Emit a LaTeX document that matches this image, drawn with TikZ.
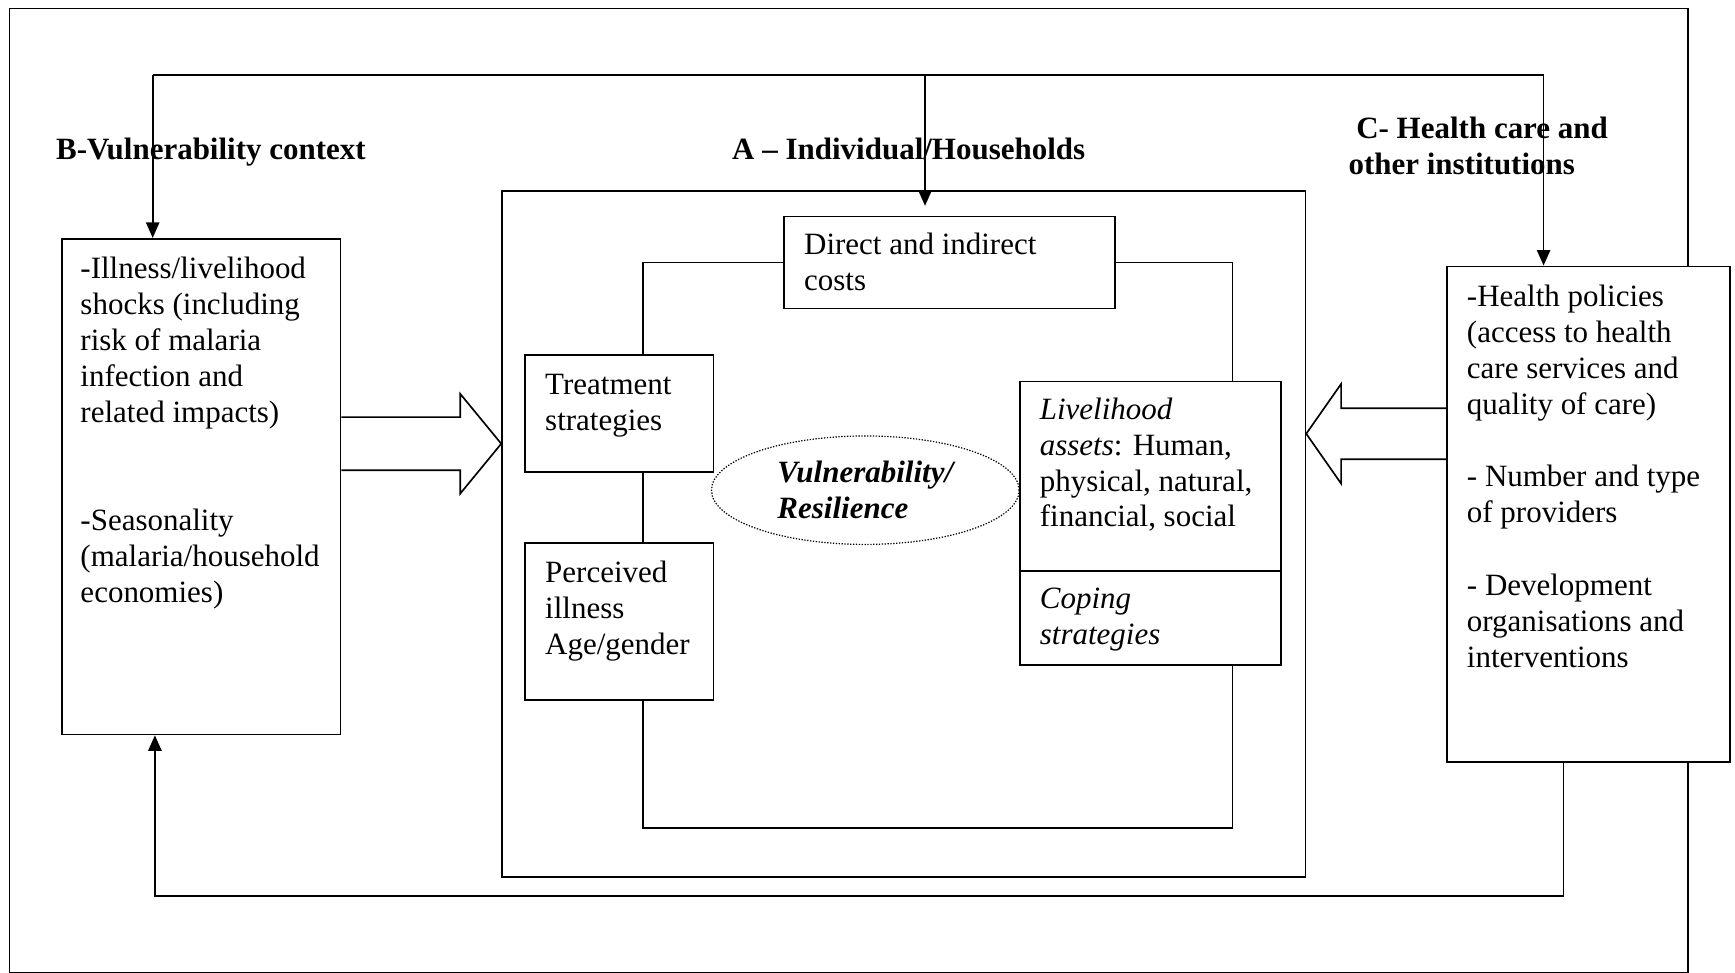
\documentclass[tikz,border=0pt]{standalone}
\usepackage{fontspec}
\setmainfont{Liberation Serif}
\usetikzlibrary{arrows.meta,shapes.geometric}
\newcommand\boxtxt[5]{\parbox[c][#1][t]{#2}{\raggedright\leftskip=#3\relax\rule{0pt}{#4}#5}}
\begin{document}
\begin{tikzpicture}[x=1pt,y=-1pt,
  line width=1.5pt,
  every node/.style={font=\fontsize{28}{32.5}\selectfont},
  box/.style={draw, inner sep=0pt, anchor=north west, fill=white},
  head/.style={font=\fontsize{28}{32.5}\selectfont\bfseries, inner sep=0pt, anchor=base west},
  arr/.style={-{Triangle[length=14pt,width=12pt]}},
  hollow/.style={draw, line join=miter}]
\useasboundingbox (0,0) rectangle (1568,879);

% outer frame
\node[draw, line width=1.2pt, inner sep=0pt, anchor=north west,
      minimum width=1517pt, minimum height=871pt] (frame) at (8,7) {};

% headings
\node[head] (hB) at (50,144) {B-Vulnerability context};
\node[head] (hA) at (661,144) {A – Individual/Households};
\node[head] (hC1) at (1225,125) {C- Health care and};
\node[head] (hC2) at (1218,158) {other institutions};

% side boxes
\node[box] (B) at (55,215) {\boxtxt{448pt}{252pt}{17pt}{36pt}{-Illness/livelihood\\shocks (including\\risk of malaria\\infection and\\related impacts)\\[65.5pt]-Seasonality\\(malaria/household\\economies)}};
\node[box] (C) at (1307,240) {\boxtxt{448pt}{256pt}{18pt}{36pt}{-Health policies\\(access to health\\care services and\\quality of care)\\[32.5pt]- Number and type\\of providers\\[34pt]- Development\\organisations and\\interventions}};

% household frame and inner boxes
\node[box, fill=none, minimum width=726pt, minimum height=620pt] (A) at (453,172) {};
\node[box] (D) at (708,195) {\boxtxt{83pt}{299pt}{18pt}{34pt}{Direct and indirect\\costs}};
\node[box] (T) at (474,320) {\boxtxt{106pt}{170pt}{18pt}{36pt}{Treatment\\strategies}};
\node[box] (P) at (474,490) {\boxtxt{142pt}{170pt}{18pt}{36pt}{Perceived\\illness\\Age/gender}};
\node[box] (LA) at (921,344) {\boxtxt{171pt}{236pt}{18pt}{34pt}{\textit{Livelihood}\\\textit{assets}: Human,\\physical, natural,\\financial, social}};
\node[box] (CS) at (921,515) {\boxtxt{85pt}{236pt}{18pt}{34pt}{\textit{Coping}\\\textit{strategies}}};

\node[ellipse, draw, line width=1.1pt, dash pattern=on 1.2pt off 1.4pt,
      minimum width=278pt, minimum height=98pt, inner sep=0pt, align=left,
      font=\fontsize{28}{32.5}\selectfont\bfseries\itshape] (V) at (782,443) {Vulnerability/\\Resilience};

% top feedback
\coordinate (tl) at (138,68);
\coordinate (tm) at (836,68);
\coordinate (tr) at (1395,68);
\draw (tl) -- (tr);
\draw[arr] (tl) -- (tl |- B.north);
\draw[arr, shorten >=9pt] (tm) -- (tm |- D.north);
\draw[arr] (tr) -- (tr |- C.north);

% bottom feedback
\coordinate (bl) at (140,810);
\coordinate (br) at (1413,810);
\draw[arr] (br |- C.south) -- (br) -- (bl) -- (bl |- B.south);

% inner loop
\coordinate (lTL) at (581,237);
\coordinate (lTR) at (1114,237);
\coordinate (lBL) at (581,748);
\coordinate (lBR) at (1114,748);
\draw (D.west) -- (lTL |- D.west) -- (lTL |- T.north);
\draw (D.east) -- (lTR |- D.east) -- (lTR |- LA.north);
\draw (lTL |- T.south) -- (lTL |- P.north);
\draw (lTL |- P.south) -- (lBL) -- (lBR) -- (lBR |- CS.south);

% hollow arrows
\draw[hollow] (B.east |- 0,377) -- (416,377) -- (416,356) -- (A.west |- 0,401) -- (416,446) -- (416,425) -- (B.east |- 0,425);
\draw[hollow] (C.west |- 0,369) -- (1212,369) -- (1212,347) -- (A.east |- 0,392) -- (1212,437) -- (1212,415) -- (C.west |- 0,415);
\end{tikzpicture}
\end{document}
